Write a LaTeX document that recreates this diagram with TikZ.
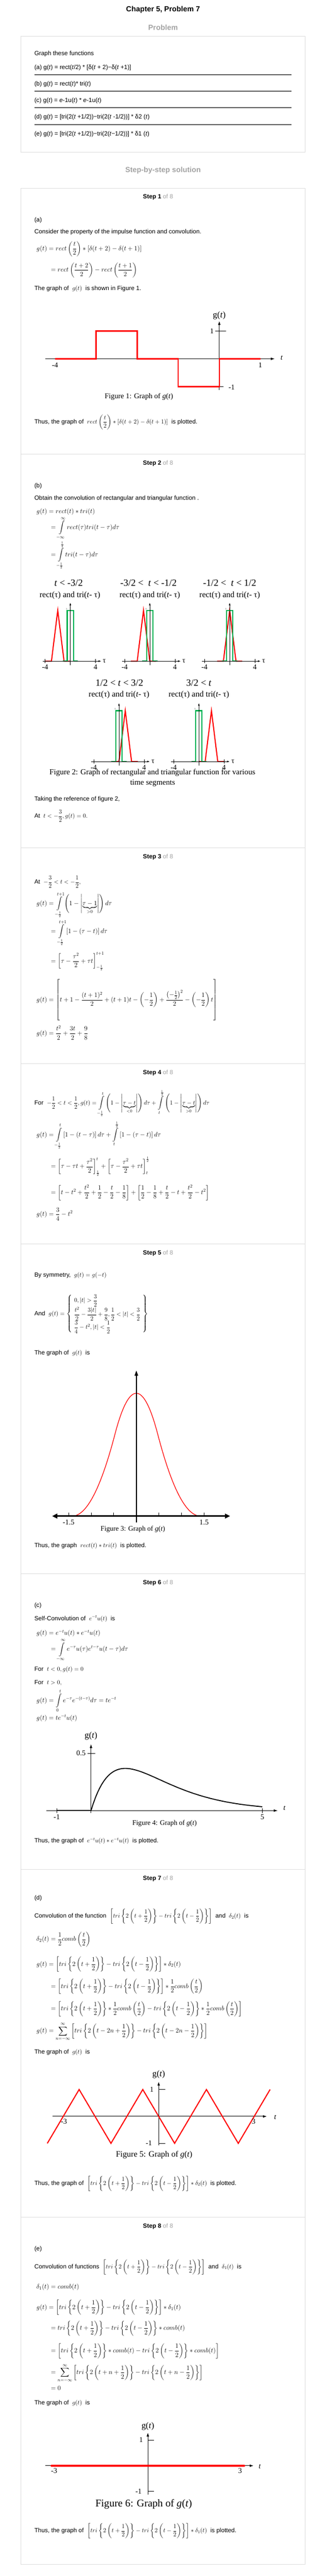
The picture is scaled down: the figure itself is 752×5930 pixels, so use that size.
\RequirePackage{fix-cm}
\documentclass[tikz,border=0pt]{standalone}
\usepackage{amsmath}
\usepackage{fontspec}
\usetikzlibrary{arrows.meta}

\newfontfamily\bodyfont{Liberation Sans}
\newfontfamily\figfont{Liberation Serif}

\definecolor{boxline}{HTML}{DDDDDD}
\definecolor{headgray}{HTML}{A3A3A3}
\definecolor{rulegray}{HTML}{5A5A5A}
\definecolor{rectgreen}{HTML}{00B050}

\newcommand{\triP}{tri\left\{2\left(t+\frac{1}{2}\right)\right\}}
\newcommand{\triM}{tri\left\{2\left(t-\frac{1}{2}\right)\right\}}
\newcommand{\triB}{\left[\triP-\triM\right]}

\begin{document}
\begin{tikzpicture}[x=1pt, y=-1pt,
    txt/.style={anchor=base west, inner sep=0pt, font=\bodyfont\fontsize{14}{17}\selectfont},
    eqn/.style={anchor=west, inner sep=0pt, font=\fontsize{15}{18}\selectfont},
    head/.style={inner sep=0pt, font=\bodyfont\bfseries\fontsize{17}{20}\selectfont},
    stephead/.style={inner sep=0pt, font=\bodyfont\fontsize{14}{17}\selectfont},
    figlabel/.style={inner sep=0pt, font=\figfont\fontsize{17}{20}\selectfont},
    boxframe/.style={draw=boxline, line width=1.2pt},
    axisline/.style={black, line width=1.2pt},
    redline/.style={red, line width=3pt},
    greenline/.style={rectgreen, line width=2.5pt}]
                \fill[white] (0,0) rectangle (752,5930);
                \useasboundingbox (0,0) rectangle (752,5930);
                % Problem
                \node[head] (chapter) at (375.5,22) {Chapter 5, Problem 7};
                \node[head, text=headgray] (problem) at (375.5,63) {Problem};
                \draw[boxframe] (48,84) rectangle (703,350);
                \node[txt] (intro) at (79,128) {Graph these functions};
                \node[txt] (parta) at (79,159) {(a) g(\textit{t}) = rect(\textit{t}/2) * [δ(\textit{t} + 2)−δ(\textit{t} +1)]};
                \draw[rulegray, line width=1.5pt] (79,172) -- (671,172);
                \node[txt] (partb) at (79,197) {(b) g(\textit{t}) = rect(\textit{t})* tri(\textit{t})};
                \draw[rulegray, line width=1.5pt] (79,210) -- (671,210);
                \node[txt] (partc) at (79,235) {(c) g(\textit{t}) = \textit{e}-1u(\textit{t}) * \textit{e}-1u(\textit{t})};
                \draw[rulegray, line width=1.5pt] (79,248) -- (671,248);
                \node[txt] (partd) at (79,273) {(d) g(\textit{t}) = [tri(2(\textit{t} +1/2))−tri(2(\textit{t} -1/2))] * δ2 (\textit{t})};
                \draw[rulegray, line width=1.5pt] (79,287) -- (671,287);
                \node[txt] (parte) at (79,312) {(e) g(\textit{t}) = [tri(2(\textit{t} +1/2))−tri(2(\textit{t}−1/2))] * δ1 (\textit{t})};
                \node[head, text=headgray] (solution) at (375.5,392) {Step-by-step solution};
                \draw[boxframe] (48,433) rectangle (703,5903);
                % Step 1
                \node[stephead] (step1) at (364,454) {\textbf{Step 1} \textcolor{headgray}{of 8}};
                \node[txt] (a0) at (79,510) {(a)};
                \node[txt] (a1) at (79,538) {Consider the property of the impulse function and convolution.};
                \node[eqn] (a2) at (84,573) {$\displaystyle g(t)=rect\left(\frac{t}{2}\right)\ast\left[\delta(t+2)-\delta(t+1)\right]$};
                \node[eqn] (a3) at (117,622) {$\displaystyle =rect\left(\frac{t+2}{2}\right)-rect\left(\frac{t+1}{2}\right)$};
                \node[txt] (a4) at (79,668) {The graph of \ $g(t)$ \ is shown in Figure 1.};
                \begin{scope}[shift={(505,826)}, x=94.6pt, y=64pt]
                \draw[axisline, -{Latex[length=9pt,width=6pt]}] (-4.23,0) -- (1.35,0);
                \draw[axisline, -{Latex[length=9pt,width=6pt]}] (0,-1.13) -- (0,1.36);
                \draw[axisline] (-0.1,1) -- (0.17,1);
                \draw[axisline] (-0.1,-1) -- (0.1,-1);
                \draw[redline] (-4,0) -- (-3,0) -- (-3,1) -- (-2,1) -- (-2,0) -- (-1,0) -- (-1,-1) -- (0,-1) -- (0,0) -- (1,0);
                \node[figlabel, font=\figfont\fontsize{20}{24}\selectfont] (f1g) at (0,1.56) {g(\textit{t})};
                \node[figlabel] (f1one) at (-0.18,1) {1};
                \node[figlabel] (f1mone) at (0.3,-1.03) {-1};
                \node[figlabel] (f1lo) at (-4,-0.22) {-4};
                \node[figlabel] (f1hi) at (1,-0.22) {1};
                \node[figlabel] (f1t) at (1.52,0.03) {\textit{t}};
                \end{scope}
                \node[figlabel] (cap1) at (320,913) {Figure 1: Graph of \textit{g}(\textit{t})};
                \node[txt] (a5) at (79,975) {Thus, the graph of \ $\displaystyle rect\left(\frac{t}{2}\right)\ast\left[\delta(t+2)-\delta(t+1)\right]$ \ is plotted.};
                % Step 2
                \draw[boxframe] (48,1045) -- (703,1045);
                \node[stephead] (step2) at (364,1067) {\textbf{Step 2} \textcolor{headgray}{of 8}};
                \node[txt] (b0) at (79,1122) {(b)};
                \node[txt] (b1) at (79,1151) {Obtain the convolution of rectangular and triangular function .};
                \node[eqn] (b2) at (84,1178) {$g(t)=rect(t)\ast tri(t)$};
                \node[eqn] (b3) at (117,1216) {$\displaystyle =\int\limits_{-\infty}^{\infty} rect(\tau)tri(t-\tau)d\tau$};
                \node[eqn] (b4) at (117,1278) {$\displaystyle =\int\limits_{-\frac{1}{2}}^{\frac{1}{2}} tri(t-\tau)d\tau$};
                \node[figlabel, font=\figfont\fontsize{22}{26}\selectfont] (seg1) at (158,1342) {\textit{t} < -3/2};
                \node[figlabel, font=\figfont\fontsize{22}{26}\selectfont] (seg2) at (342,1342) {-3/2 < \ \textit{t} < -1/2};
                \node[figlabel, font=\figfont\fontsize{22}{26}\selectfont] (seg3) at (529,1342) {-1/2 < \ \textit{t} < 1/2};
                \node[figlabel, font=\figfont\fontsize{19}{22}\selectfont] (pair1) at (161,1370) {rect(τ) and tri(\textit{t}- τ)};
                \node[figlabel, font=\figfont\fontsize{19}{22}\selectfont] (pair2) at (345,1370) {rect(τ) and tri(\textit{t}- τ)};
                \node[figlabel, font=\figfont\fontsize{19}{22}\selectfont] (pair3) at (529,1370) {rect(τ) and tri(\textit{t}- τ)};
                % Panel 1
                \begin{scope}[shift={(162,1522)}, x=14.5pt, y=117pt]
                \draw[redline, line width=2.5pt] (-4,0) -- (-3,0) -- (-2,1) -- (-1,0) -- (0,0);
                \draw[greenline] (-1.2,0) -- (-0.5,0) -- (-0.5,1) -- (0.5,1) -- (0.5,0) -- (1.2,0);
                \draw[black, line width=0.8pt, -{Latex[length=6pt,width=4pt]}] (-4.4,0) -- (4.9,0);
                \draw[black, line width=0.8pt, -{Latex[length=6pt,width=4pt]}] (0,-0.08) -- (0,1.15);
                \draw[black, line width=0.6pt] (-4,-0.04) -- (-4,0.04);
                \draw[black, line width=0.6pt] (4,-0.04) -- (4,0.04);
                \node[figlabel, font=\figfont\fontsize{5}{6}\selectfont] (p1one) at (-0.6,1.03) {1};
                \node[figlabel] (p1lo) at (-4,-0.12) {-4};
                \node[figlabel] (p1hi) at (4,-0.12) {4};
                \node[figlabel] (p1tau) at (5.4,0) {τ};
                \end{scope}
                % Panel 2
                \begin{scope}[shift={(345,1522)}, x=14.5pt, y=117pt]
                \draw[redline, line width=2.5pt] (-3,0) -- (-2,0) -- (-1,1) -- (0,0) -- (1,0);
                \draw[greenline] (-1.2,0) -- (-0.5,0) -- (-0.5,1) -- (0.5,1) -- (0.5,0) -- (1.2,0);
                \draw[black, line width=0.8pt, -{Latex[length=6pt,width=4pt]}] (-4.4,0) -- (4.9,0);
                \draw[black, line width=0.8pt, -{Latex[length=6pt,width=4pt]}] (0,-0.08) -- (0,1.15);
                \draw[black, line width=0.6pt] (-4,-0.04) -- (-4,0.04);
                \draw[black, line width=0.6pt] (4,-0.04) -- (4,0.04);
                \node[figlabel, font=\figfont\fontsize{5}{6}\selectfont] (p2one) at (-0.6,1.03) {1};
                \node[figlabel] (p2lo) at (-4,-0.12) {-4};
                \node[figlabel] (p2hi) at (4,-0.12) {4};
                \node[figlabel] (p2tau) at (5.4,0) {τ};
                \end{scope}
                % Panel 3
                \begin{scope}[shift={(529,1522)}, x=14.5pt, y=117pt]
                \draw[redline, line width=2.5pt] (-2,0) -- (-1,0) -- (0,1) -- (1,0) -- (2,0);
                \draw[greenline] (-1.2,0) -- (-0.5,0) -- (-0.5,1) -- (0.5,1) -- (0.5,0) -- (1.2,0);
                \draw[black, line width=0.8pt, -{Latex[length=6pt,width=4pt]}] (-4.4,0) -- (4.9,0);
                \draw[black, line width=0.8pt, -{Latex[length=6pt,width=4pt]}] (0,-0.08) -- (0,1.15);
                \draw[black, line width=0.6pt] (-4,-0.04) -- (-4,0.04);
                \draw[black, line width=0.6pt] (4,-0.04) -- (4,0.04);
                \node[figlabel, font=\figfont\fontsize{5}{6}\selectfont] (p3one) at (-0.6,1.03) {1};
                \node[figlabel] (p3lo) at (-4,-0.12) {-4};
                \node[figlabel] (p3hi) at (4,-0.12) {4};
                \node[figlabel] (p3tau) at (5.4,0) {τ};
                \end{scope}
                \node[figlabel, font=\figfont\fontsize{22}{26}\selectfont] (seg4) at (275,1572) {1/2 < \textit{t} < 3/2};
                \node[figlabel, font=\figfont\fontsize{22}{26}\selectfont] (seg5) at (458,1572) {3/2 < \textit{t}};
                \node[figlabel, font=\figfont\fontsize{19}{22}\selectfont] (pair4) at (274,1600) {rect(τ) and tri(\textit{t}- τ)};
                \node[figlabel, font=\figfont\fontsize{19}{22}\selectfont] (pair5) at (458,1600) {rect(τ) and tri(\textit{t}- τ)};
                % Panel 4
                \begin{scope}[shift={(274,1753)}, x=14.5pt, y=117pt]
                \draw[redline, line width=2.5pt] (-1,0) -- (0,0) -- (1,1) -- (2,0) -- (3,0);
                \draw[greenline] (-1.2,0) -- (-0.5,0) -- (-0.5,1) -- (0.5,1) -- (0.5,0) -- (1.2,0);
                \draw[black, line width=0.8pt, -{Latex[length=6pt,width=4pt]}] (-4.4,0) -- (4.9,0);
                \draw[black, line width=0.8pt, -{Latex[length=6pt,width=4pt]}] (0,-0.08) -- (0,1.15);
                \draw[black, line width=0.6pt] (-4,-0.04) -- (-4,0.04);
                \draw[black, line width=0.6pt] (4,-0.04) -- (4,0.04);
                \node[figlabel, font=\figfont\fontsize{5}{6}\selectfont] (p4one) at (-0.6,1.03) {1};
                \node[figlabel] (p4lo) at (-4,-0.12) {-4};
                \node[figlabel] (p4hi) at (4,-0.12) {4};
                \node[figlabel] (p4tau) at (5.4,0) {τ};
                \end{scope}
                % Panel 5
                \begin{scope}[shift={(458,1753)}, x=14.5pt, y=117pt]
                \draw[redline, line width=2.5pt] (0,0) -- (1,0) -- (2,1) -- (3,0) -- (4,0);
                \draw[greenline] (-1.2,0) -- (-0.5,0) -- (-0.5,1) -- (0.5,1) -- (0.5,0) -- (1.2,0);
                \draw[black, line width=0.8pt, -{Latex[length=6pt,width=4pt]}] (-4.4,0) -- (4.9,0);
                \draw[black, line width=0.8pt, -{Latex[length=6pt,width=4pt]}] (0,-0.08) -- (0,1.15);
                \draw[black, line width=0.6pt] (-4,-0.04) -- (-4,0.04);
                \draw[black, line width=0.6pt] (4,-0.04) -- (4,0.04);
                \node[figlabel, font=\figfont\fontsize{5}{6}\selectfont] (p5one) at (-0.6,1.03) {1};
                \node[figlabel] (p5lo) at (-4,-0.12) {-4};
                \node[figlabel] (p5hi) at (4,-0.12) {4};
                \node[figlabel] (p5tau) at (5.4,0) {τ};
                \end{scope}
                \node[figlabel, font=\figfont\fontsize{18}{21}\selectfont] (cap2a) at (351,1779) {Figure 2: Graph of rectangular and triangular function for various};
                \node[figlabel, font=\figfont\fontsize{18}{21}\selectfont] (cap2b) at (351.5,1803) {time segments};
                \node[txt] (b5) at (79,1844) {Taking the reference of figure 2,};
                \node[txt] (b6) at (79,1883) {At \ $\displaystyle t<-\frac{3}{2},g(t)=0.$};
                % Step 3
                \draw[boxframe] (48,1952) -- (703,1952);
                \node[stephead] (step3) at (364,1973) {\textbf{Step 3} \textcolor{headgray}{of 8}};
                \node[txt] (c0) at (79,2035) {At \ $\displaystyle -\frac{3}{2}<t<-\frac{1}{2},$};
                \node[eqn] (c1) at (84,2083) {$\displaystyle g(t)=\int\limits_{-\frac{1}{2}}^{t+1}\left(1-\left|\underbrace{\tau-1}_{>0}\right|\right)d\tau$};
                \node[eqn] (c2) at (117,2147) {$\displaystyle =\int\limits_{-\frac{1}{2}}^{t+1}\left[1-(\tau-t)\right]d\tau$};
                \node[eqn] (c3) at (117,2213) {$\displaystyle =\left[\tau-\frac{\tau^2}{2}+\tau t\right]_{-\frac{1}{2}}^{t+1}$};
                \node[eqn] (c4) at (84,2302) {$\displaystyle g(t)=\left[\rule[-42pt]{0pt}{88pt}t+1-\frac{(t+1)^2}{2}+(t+1)t-\left(-\frac{1}{2}\right)+\frac{\left(-\frac{1}{2}\right)^2}{2}-\left(-\frac{1}{2}\right)t\right]$};
                \node[eqn] (c5) at (84,2377) {$\displaystyle g(t)=\frac{t^2}{2}+\frac{3t}{2}+\frac{9}{8}$};
                % Step 4
                \draw[boxframe] (48,2449) -- (703,2449);
                \node[stephead] (step4) at (364,2470) {\textbf{Step 4} \textcolor{headgray}{of 8}};
                \node[txt] (d0) at (79,2543) {For \ $\displaystyle -\frac{1}{2}<t<\frac{1}{2},g(t)=\int\limits_{-\frac{1}{2}}^{t}\left(1-\left|\underbrace{\tau-t}_{<0}\right|\right)d\tau+\int\limits_{t}^{\frac{1}{2}}\left(1-\left|\underbrace{\tau-t}_{>0}\right|\right)d\tau$};
                \node[eqn] (d1) at (84,2613) {$\displaystyle g(t)=\int\limits_{-\frac{1}{2}}^{t}\left[1-(t-\tau)\right]d\tau+\int\limits_{t}^{\frac{1}{2}}\left[1-(\tau-t)\right]d\tau$};
                \node[eqn] (d2) at (117,2685) {$\displaystyle =\left[\tau-\tau t+\frac{\tau^2}{2}\right]_{\frac{1}{2}}^{t}+\left[\tau-\frac{\tau^2}{2}+\tau t\right]_{t}^{\frac{1}{2}}$};
                \node[eqn] (d3) at (117,2745) {$\displaystyle =\left[t-t^2+\frac{t^2}{2}+\frac{1}{2}-\frac{t}{2}-\frac{1}{8}\right]+\left[\frac{1}{2}-\frac{1}{8}+\frac{t}{2}-t+\frac{t^2}{2}-t^2\right]$};
                \node[eqn] (d4) at (84,2795) {$\displaystyle g(t)=\frac{3}{4}-t^2$};
                % Step 5
                \draw[boxframe] (48,2864) -- (703,2864);
                \node[stephead] (step5) at (364,2885) {\textbf{Step 5} \textcolor{headgray}{of 8}};
                \node[txt] (e0) at (79,2940) {By symmetry, \ $g(t)=g(-t)$};
                \node[txt] (e1) at (79,3028) {And \ $g(t)=\left\{\begin{array}{l}\displaystyle 0,|t|>\frac{3}{2}\\[6pt] \displaystyle\frac{t^2}{2}-\frac{3|t|}{2}+\frac{9}{8},\frac{1}{2}<|t|<\frac{3}{2}\\[6pt] \displaystyle\frac{3}{4}-t^2,|t|<\frac{1}{2}\end{array}\right\}$};
                \node[txt] (e2) at (79,3118) {The graph of \ $g(t)$ \ is};
                \begin{scope}[shift={(314,3490)}, x=1pt, y=1pt]
                \draw[red, line width=1.5pt] plot[domain=-1.5:-0.5, samples=40] ({98.5*\x}, {188.5*(\x+1.5)*(\x+1.5)}) -- plot[domain=-0.5:0.5, samples=40] ({98.5*\x}, {377*(0.75-(\x)*(\x))}) -- plot[domain=0.5:1.5, samples=40] ({98.5*\x}, {188.5*(\x-1.5)*(\x-1.5)});
                \draw[black, line width=3pt, {Triangle[length=12pt,width=11pt]}-{Triangle[length=12pt,width=11pt]}] (-194,0) -- (216,0);
                \draw[black, line width=2pt, -{Triangle[length=12pt,width=8pt]}] (0,-15) -- (0,335);
                \draw[black, line width=1pt] (-156,0) -- (-156,8);
                \draw[black, line width=1pt] (-104,0) -- (-104,8);
                \draw[black, line width=1pt] (-52,0) -- (-52,8);
                \draw[black, line width=1pt] (52,0) -- (52,8);
                \draw[black, line width=1pt] (104,0) -- (104,8);
                \draw[black, line width=1pt] (156,0) -- (156,8);
                \node[figlabel] (f3lo) at (-156,-14) {-1.5};
                \node[figlabel] (f3hi) at (156,-14) {1.5};
                \end{scope}
                \node[figlabel, font=\figfont\fontsize{16}{19}\selectfont] (cap3) at (306,3520) {Figure 3: Graph of \textit{g}(\textit{t})};
                \node[txt] (e3) at (79,3562) {Thus, the graph \ $rect(t)\ast tri(t)$ \ is plotted.};
                % Step 6
                \draw[boxframe] (48,3623) -- (703,3623);
                \node[stephead] (step6) at (364,3644) {\textbf{Step 6} \textcolor{headgray}{of 8}};
                \node[txt] (g0) at (79,3700) {(c)};
                \node[txt] (g1) at (79,3730) {Self-Convolution of \ $e^{-t}u(t)$ \ is};
                \node[eqn] (g2) at (84,3760) {$g(t)=e^{-t}u(t)\ast e^{-t}u(t)$};
                \node[eqn] (g3) at (117,3798) {$\displaystyle =\int\limits_{-\infty}^{\infty}e^{-\tau}u(\tau)e^{t-\tau}u(t-\tau)d\tau$};
                \node[txt] (g4) at (79,3847) {For \ $t<0,g(t)=0$};
                \node[txt] (g5) at (79,3877) {For \ $t>0,$};
                \node[eqn] (g6) at (84,3915) {$\displaystyle g(t)=\int\limits_{0}^{t}e^{-\tau}e^{-(t-\tau)}d\tau=te^{-t}$};
                \node[eqn] (g7) at (84,3955) {$g(t)=te^{-t}u(t)$};
                \begin{scope}[shift={(209.6,4168)}, x=78.9pt, y=264pt]
                \draw[axisline, -{Latex[length=9pt,width=6pt]}] (-1.31,0) -- (5.45,0);
                \draw[axisline, -{Latex[length=9pt,width=6pt]}] (0,-0.02) -- (0,0.58);
                \draw[axisline] (-0.1,0.5) -- (0.12,0.5);
                \draw[black, line width=0.6pt] (-1,-0.02) -- (-1,0.02);
                \draw[black, line width=0.6pt] (5,-0.02) -- (5,0.02);
                \draw[black, line width=2.2pt] (-1,0) -- (0,0);
                \draw[black, line width=2.2pt] plot[domain=0:5, samples=80] (\x, {\x*exp(-\x)});
                \node[figlabel, font=\figfont\fontsize{20}{24}\selectfont] (f4g) at (0,0.65) {g(\textit{t})};
                \node[figlabel] (f4half) at (-0.29,0.5) {0.5};
                \node[figlabel] (f4lo) at (-1,-0.055) {-1};
                \node[figlabel] (f4hi) at (5,-0.055) {5};
                \node[figlabel] (f4t) at (5.65,0.02) {\textit{t}};
                \end{scope}
                \node[figlabel, font=\figfont\fontsize{16}{19}\selectfont] (cap4) at (379,4197) {Figure 4: Graph of \textit{g}(\textit{t})};
                \node[txt] (g8) at (79,4242) {Thus, the graph of \ $e^{-t}u(t)\ast e^{-t}u(t)$ \ is plotted.};
                % Step 7
                \draw[boxframe] (48,4303) -- (703,4303);
                \node[stephead] (step7) at (364,4325) {\textbf{Step 7} \textcolor{headgray}{of 8}};
                \node[txt] (h0) at (79,4373) {(d)};
                \node[txt] (h1) at (79,4415) {Convolution of the function \ $\displaystyle\triB$ \ and \ $\delta_2(t)$ \ is};
                \node[eqn] (h2) at (84,4465) {$\displaystyle \delta_2(t)=\frac{1}{2}comb\left(\frac{t}{2}\right)$};
                \node[eqn] (h3) at (84,4522) {$\displaystyle g(t)=\triB\ast\delta_2(t)$};
                \node[eqn] (h4) at (117,4573) {$\displaystyle =\triB\ast\frac{1}{2}comb\left(\frac{t}{2}\right)$};
                \node[eqn] (h5) at (117,4625) {$\displaystyle =\left[\triP\ast\frac{1}{2}comb\left(\frac{t}{2}\right)-\triM\ast\frac{1}{2}comb\left(\frac{t}{2}\right)\right]$};
                \node[eqn] (h6) at (84,4677) {$\displaystyle g(t)=\sum_{n=-\infty}^{\infty}\left[tri\left\{2\left(t-2n+\frac{1}{2}\right)\right\}-tri\left\{2\left(t-2n-\frac{1}{2}\right)\right\}\right]$};
                \node[txt] (h7) at (79,4728) {The graph of \ $g(t)$ \ is};
                \begin{scope}[shift={(365.5,4872)}, x=73.3pt, y=62pt]
                \draw[axisline, -{Latex[length=9pt,width=6pt]}] (-3.33,0) -- (3.4,0);
                \draw[axisline, -{Latex[length=9pt,width=6pt]}] (0,-1.08) -- (0,1.29);
                \draw[axisline] (0,1) -- (0.2,1);
                \draw[axisline] (0,-1) -- (0.2,-1);
                \draw[redline, line width=2.5pt] (-3.5,-1) -- (-2.5,1) -- (-1.5,-1) -- (-0.5,1) -- (0.5,-1) -- (1.5,1) -- (2.5,-1) -- (3.5,1);
                \node[figlabel, font=\figfont\fontsize{20}{24}\selectfont] (f5g) at (0,1.55) {g(\textit{t})};
                \node[figlabel] (f5one) at (-0.22,1) {1};
                \node[figlabel] (f5mone) at (-0.31,-1) {-1};
                \node[figlabel] (f5lo) at (-2.98,-0.18) {-3};
                \node[figlabel] (f5hi) at (2.98,-0.18) {3};
                \node[figlabel] (f5t) at (3.66,-0.03) {\textit{t}};
                \end{scope}
                \node[figlabel, font=\figfont\fontsize{19}{23}\selectfont] (cap5) at (355,4960) {Figure 5: Graph of \textit{g}(\textit{t})};
                \node[txt] (h8) at (79,5030) {Thus, the graph of \ $\displaystyle\triB\ast\delta_2(t)$ \ is plotted.};
                % Step 8
                \draw[boxframe] (48,5104) -- (703,5104);
                \node[stephead] (step8) at (364,5125) {\textbf{Step 8} \textcolor{headgray}{of 8}};
                \node[txt] (i0) at (79,5181) {(e)};
                \node[txt] (i1) at (79,5222) {Convolution of functions \ $\displaystyle\triB$ \ and \ $\delta_1(t)$ \ is};
                \node[eqn] (i2) at (84,5265) {$\delta_1(t)=comb(t)$};
                \node[eqn] (i3) at (84,5312) {$\displaystyle g(t)=\triB\ast\delta_1(t)$};
                \node[eqn] (i4) at (117,5360) {$\displaystyle =\triP-\triM\ast comb(t)$};
                \node[eqn] (i5) at (117,5412) {$\displaystyle =\left[\triP\ast comb(t)-\triM\ast comb(t)\right]$};
                \node[eqn] (i6) at (117,5463) {$\displaystyle =\sum_{n=-\infty}^{\infty}\left[tri\left\{2\left(t+n+\frac{1}{2}\right)\right\}-tri\left\{2\left(t+n-\frac{1}{2}\right)\right\}\right]$};
                \node[eqn] (i7) at (117,5497) {$=0$};
                \node[txt] (i8) at (79,5535) {The graph of \ $g(t)$ \ is};
                \begin{scope}[shift={(340.5,5676)}, x=70.8pt, y=59pt]
                \draw[axisline, -{Latex[length=9pt,width=6pt]}] (-3.33,0) -- (3.44,0);
                \draw[axisline, -{Latex[length=9pt,width=6pt]}] (0,-1.12) -- (0,1.29);
                \draw[axisline] (0,1) -- (0.2,1);
                \draw[axisline] (0,-1) -- (0.2,-1);
                \draw[redline, line width=5pt, line cap=round] (-3.13,0) -- (3.13,0);
                \node[figlabel, font=\figfont\fontsize{20}{24}\selectfont] (f6g) at (0,1.54) {g(\textit{t})};
                \node[figlabel] (f6one) at (-0.22,1) {1};
                \node[figlabel] (f6mone) at (-0.3,-1) {-1};
                \node[figlabel] (f6lo) at (-3.05,-0.2) {-3};
                \node[figlabel] (f6hi) at (3.0,-0.2) {3};
                \node[figlabel] (f6t) at (3.64,-0.03) {\textit{t}};
                \end{scope}
                \node[figlabel, font=\figfont\fontsize{24}{28}\selectfont] (cap6) at (331,5765) {Figure 6: Graph of \textit{g}(\textit{t})};
                \node[txt] (i9) at (79,5830) {Thus, the graph of \ $\displaystyle\triB\ast\delta_1(t)$ \ is plotted.};
            \end{tikzpicture}
\end{document}
